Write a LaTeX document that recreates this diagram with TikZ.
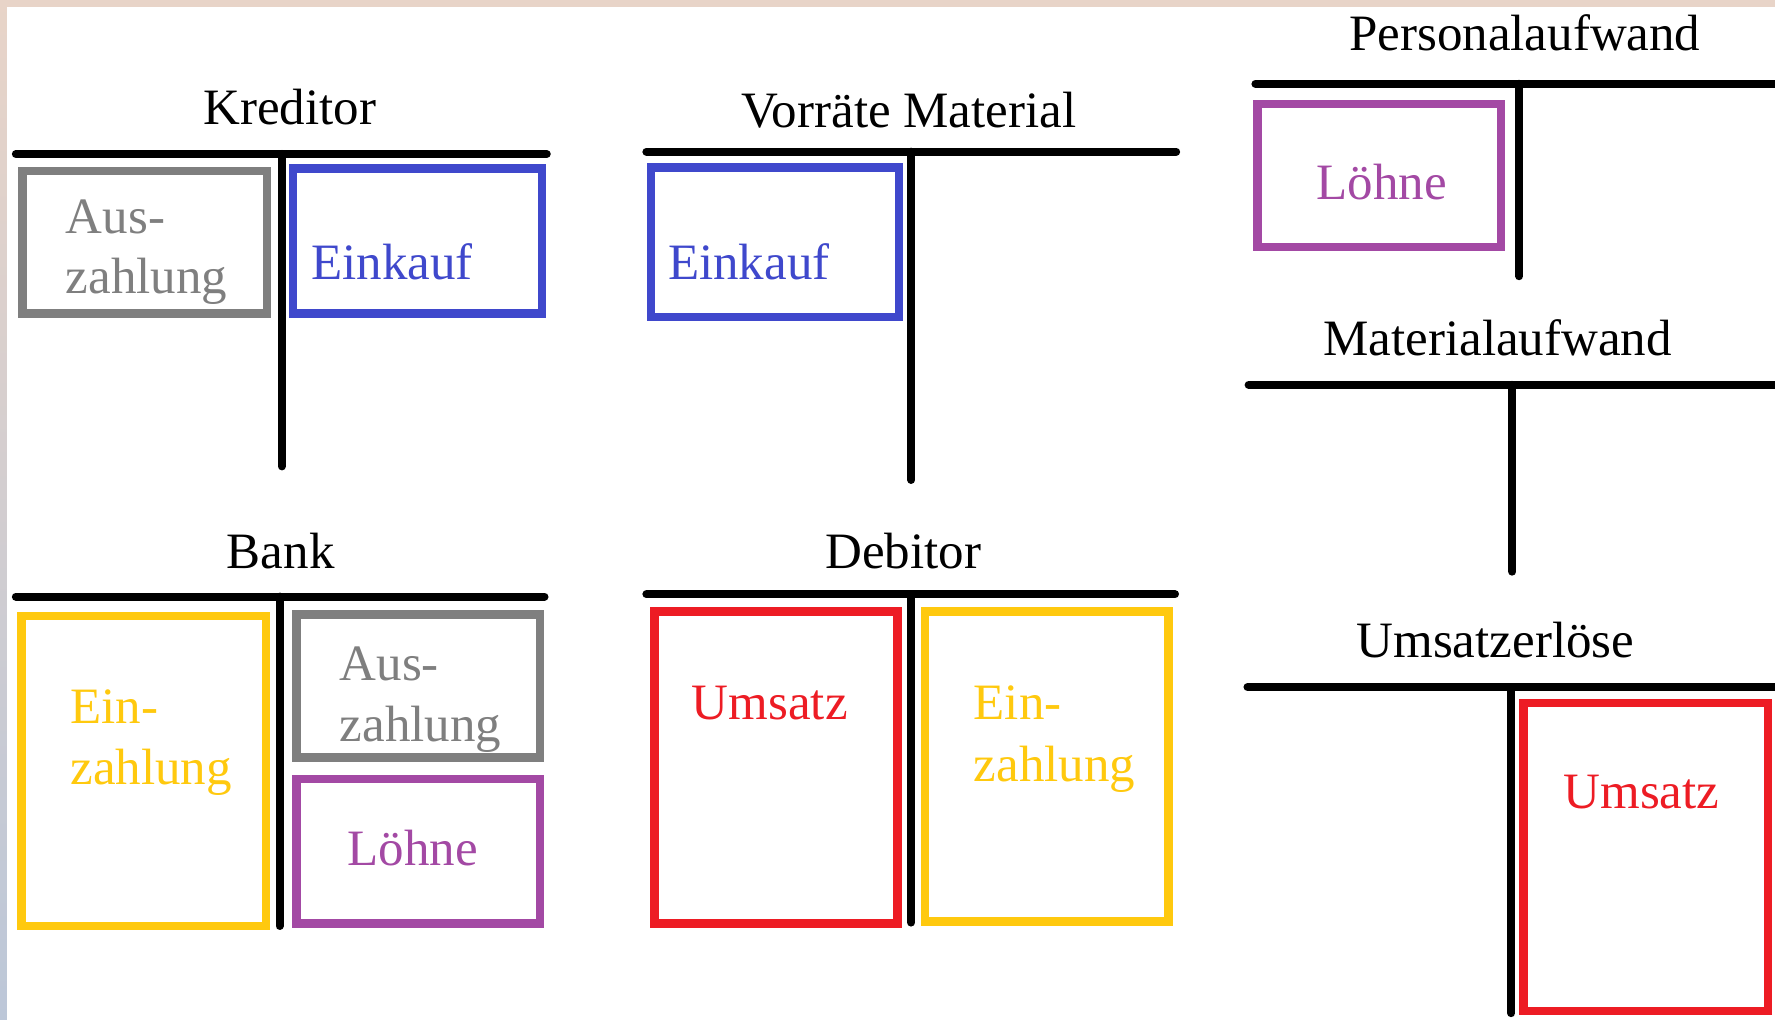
\documentclass[tikz,border=0pt]{standalone}
\usepackage{fontspec}
\setmainfont{Liberation Serif}
\usetikzlibrary{fit}
% MS Paint style palette
\definecolor{pgray}{HTML}{7F7F7F}
\definecolor{pblue}{HTML}{3F48CC}
\definecolor{ppurple}{HTML}{A349A4}
\definecolor{pyellow}{HTML}{FFC90E}
\definecolor{pred}{HTML}{ED1C24}
\definecolor{bandtop}{HTML}{E8D4C8}
\definecolor{bandbot}{HTML}{BCC7D8}
\begin{document}
\begin{tikzpicture}[x=1.132pt,y=-1.132pt,
  tline/.style={line width=8pt,line cap=round},
  acct/.style={draw=#1,line width=8.5pt,inner sep=0pt,rectangle},
  ttl/.style={anchor=base,inner sep=0pt,font=\fontsize{51}{60}\selectfont},
  lbl/.style={anchor=base west,inner sep=0pt,text=#1,font=\fontsize{51}{60}\selectfont}]

% canvas and frame bands
\useasboundingbox (0,0) rectangle (1568,901);
\fill[white] (0,0) rectangle (1568,901);
\fill[bandtop] (0,0) rectangle (1568,6);
\shade[top color=bandtop,bottom color=bandbot] (0,0) rectangle (6,901);

% ---------- Kreditor ----------
\node[ttl] (kT) at (256,110) {Kreditor};
\draw[tline] (14,136) -- (483,136);
\draw[tline] (249,136) -- (249,412);
\node[acct=pgray,fit={(20,151) (236,277)}] (kAusBox) {};
\node[acct=pblue,fit={(259,149) (479,277)}] (kEinBox) {};
\node[lbl=pgray] (kAus1) at (58,206) {Aus-};
\node[lbl=pgray] (kAus2) at (58,259) {zahlung};
\node[lbl=pblue] (kEin) at (275,247) {Einkauf};

% ---------- Vorräte Material ----------
\node[ttl] (vT) at (803,113) {Vorräte Material};
\draw[tline] (571,134) -- (1039,134);
\draw[tline] (805,134) -- (805,424);
\node[acct=pblue,fit={(575,148) (794,280)}] (vEinBox) {};
\node[lbl=pblue] (vEin) at (590,247) {Einkauf};

% ---------- Personalaufwand ----------
\node[ttl] (pT) at (1347,45) {Personalaufwand};
\draw[tline] (1109,74) -- (1580,74);
\draw[tline] (1342,74) -- (1342,244);
\node[acct=ppurple,fit={(1111,92) (1326,218)}] (pLohBox) {};
\node[lbl=ppurple] (pLoh) at (1163,176) {Löhne};

% ---------- Materialaufwand ----------
\node[ttl] (mT) at (1323,314) {Materialaufwand};
\draw[tline] (1103,340) -- (1580,340);
\draw[tline] (1336,340) -- (1336,505);

% ---------- Umsatzerlöse ----------
\node[ttl] (uT) at (1321,581) {Umsatzerlöse};
\draw[tline] (1102,607) -- (1580,607);
\draw[tline] (1335,607) -- (1335,895);
\node[acct=pred,fit={(1346,621) (1562,893)}] (uUmsBox) {};
\node[lbl=pred] (uUms) at (1381,714) {Umsatz};

% ---------- Bank ----------
\node[ttl] (bT) at (248,502) {Bank};
\draw[tline] (14,527) -- (481,527);
\draw[tline] (247,527) -- (247,818);
\node[acct=pyellow,fit={(19,544) (235,818)}] (bEinBox) {};
\node[acct=pgray,fit={(262,543) (477,669)}] (bAusBox) {};
\node[acct=ppurple,fit={(262,688) (477,816)}] (bLohBox) {};
\node[lbl=pyellow] (bEin1) at (62,639) {Ein-};
\node[lbl=pyellow] (bEin2) at (62,693) {zahlung};
\node[lbl=pgray] (bAus1) at (300,601) {Aus-};
\node[lbl=pgray] (bAus2) at (300,655) {zahlung};
\node[lbl=ppurple] (bLoh) at (307,765) {Löhne};

% ---------- Debitor ----------
\node[ttl] (dT) at (798,502) {Debitor};
\draw[tline] (571,525) -- (1038,525);
\draw[tline] (805,525) -- (805,815);
\node[acct=pred,fit={(578,540) (793,816)}] (dUmsBox) {};
\node[acct=pyellow,fit={(817,540) (1032,814)}] (dEinBox) {};
\node[lbl=pred] (dUms) at (611,636) {Umsatz};
\node[lbl=pyellow] (dEin1) at (860,636) {Ein-};
\node[lbl=pyellow] (dEin2) at (860,690) {zahlung};
\end{tikzpicture}
\end{document}
